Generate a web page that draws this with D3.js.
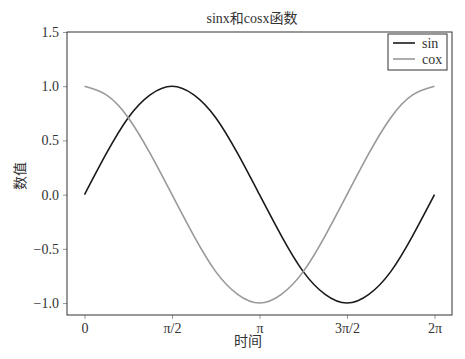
<!DOCTYPE html>
<html>
<head>
<meta charset="utf-8">
<script src="https://cdn.jsdelivr.net/npm/d3@7"></script>
<style>
  body { margin: 0; background: #fff; }
  text { font-family: "Liberation Serif", "Noto Sans CJK SC", serif; fill: #333; }
</style>
</head>
<body>
<svg id="chart"></svg>
<script>
var xSteps = d3.range(17).map(function(k) { return k * Math.PI / 8; });
var sinValues = [0, 0.38, 0.71, 0.92, 1, 0.92, 0.71, 0.38, 0, -0.38, -0.71, -0.92, -1, -0.92, -0.71, -0.38, 0];
var cosValues = [1, 0.92, 0.71, 0.38, 0, -0.38, -0.71, -0.92, -1, -0.92, -0.71, -0.38, 0, 0.38, 0.71, 0.92, 1];
var xTickValues = [0, Math.PI / 2, Math.PI, 3 * Math.PI / 2, 2 * Math.PI];
var xTickLabels = ["0", "π/2", "π", "3π/2", "2π"];
var yTickValues = [-1.0, -0.5, 0.0, 0.5, 1.0, 1.5];
var seriesNames = ["sin", "cox"];
var seriesColors = ["#1a1a1a", "#999999"];

var width = 465, height = 359;
var margin = {top: 32, right: 13, bottom: 44, left: 67};
var w = width - margin.left - margin.right;
var h = height - margin.top - margin.bottom;

var svg = d3.select("#chart").attr("width", width).attr("height", height);
var g = svg.append("g").attr("transform", "translate(" + margin.left + "," + margin.top + ")");

var pad = 0.05 * 2 * Math.PI;
var x = d3.scaleLinear().domain([-pad, 2 * Math.PI + pad]).range([0, w]);
var y = d3.scaleLinear().domain([-1.11, 1.5]).range([h, 0]);

var xAxis = g.append("g")
  .attr("transform", "translate(0," + h + ")")
  .call(d3.axisBottom(x).tickValues(xTickValues).tickFormat(function(d, i) { return xTickLabels[i]; }).tickSize(4).tickPadding(4));
var yAxis = g.append("g")
  .call(d3.axisLeft(y).tickValues(yTickValues).tickFormat(function(d) { return d3.format(".1f")(d).replace("-", "\u2212"); }).tickSize(4).tickPadding(4));

[xAxis, yAxis].forEach(function(a) {
  a.select(".domain").remove();
  a.selectAll(".tick line").attr("stroke", "#999");
  a.selectAll(".tick text").style("font-size", "14px").attr("fill", "#333");
});

// frame
g.append("rect").attr("width", w).attr("height", h)
  .attr("fill", "none").attr("stroke", "#333").attr("stroke-width", 1);

var line = d3.line()
  .x(function(d) { return x(d[0]); })
  .y(function(d) { return y(d[1]); })
  .curve(d3.curveNatural);

[sinValues, cosValues].forEach(function(vals, i) {
  g.append("path")
    .datum(xSteps.map(function(t, k) { return [t, vals[k]]; }))
    .attr("d", line)
    .attr("fill", "none")
    .attr("stroke", seriesColors[i])
    .attr("stroke-width", 1.6);
});

// title and axis labels
svg.append("text").attr("x", 252).attr("y", 23).attr("text-anchor", "middle")
  .style("font-size", "14px").text("sinx和cosx函数");
svg.append("text").attr("x", 248).attr("y", 346).attr("text-anchor", "middle")
  .style("font-size", "14px").text("时间");
svg.append("text").attr("transform", "translate(25,176) rotate(-90)").attr("text-anchor", "middle")
  .style("font-size", "14px").text("数值");

// legend
var legend = svg.append("g").attr("transform", "translate(388,34)");
legend.append("rect").attr("width", 59).attr("height", 36)
  .attr("fill", "#fff").attr("stroke", "#333").attr("stroke-width", 1);
seriesNames.forEach(function(name, i) {
  var ly = 9 + i * 16;
  legend.append("line").attr("x1", 5).attr("x2", 27).attr("y1", ly).attr("y2", ly)
    .attr("stroke", seriesColors[i]).attr("stroke-width", 1.6);
  legend.append("text").attr("x", 34).attr("y", ly + 4.5)
    .style("font-size", "14px").text(name);
});
</script>
</body>
</html>
